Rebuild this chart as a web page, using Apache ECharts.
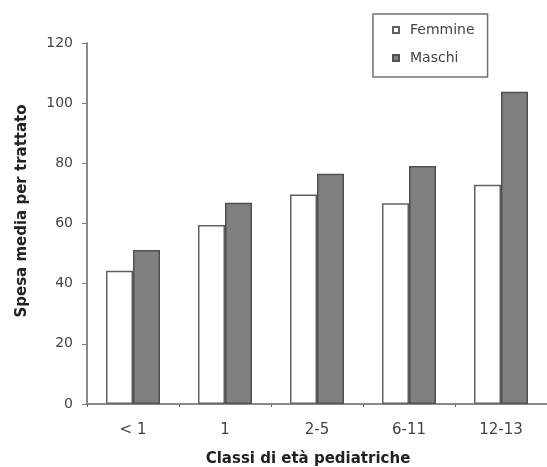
<!DOCTYPE html>
<html>
<head>
<meta charset="utf-8">
<script src="https://cdn.jsdelivr.net/npm/echarts@6/dist/echarts.min.js"></script>
<style>html,body{margin:0;padding:0;background:#fff}#c{width:547px;height:467px}</style>
</head>
<body>
<div id="c"></div>
<script>
const categories = ['< 1', '1', '2-5', '6-11', '12-13'];
const femmine = [44.3, 59.5, 69.6, 66.7, 72.9];
const maschi = [51.2, 66.9, 76.5, 79.1, 103.8];
const yTicks = [0, 20, 40, 60, 80, 100, 120];
const yTitle = 'Spesa media per trattato';
const xTitle = 'Classi di età pediatriche';

const FONT = '"DejaVu Sans", sans-serif';
const chart = echarts.init(document.getElementById('c'), null, {renderer: 'canvas'});
chart.setOption({
  animation: false,
  backgroundColor: '#fff',
  textStyle: {fontFamily: FONT},
  grid: {left: 87, top: 43, width: 468, height: 361, containLabel: false},
  legend: {
    orient: 'vertical', left: 373, top: 14,
    data: ['Femmine', 'Maschi'],
    itemWidth: 6, itemHeight: 6, itemGap: 14,
    padding: [9, 13, 12, 19],
    borderColor: '#707070', borderWidth: 1.5,
    textStyle: {fontFamily: FONT, fontSize: 14, color: '#444', padding: [0, 0, 0, 6]},
    icon: 'rect'
  },
  xAxis: {
    type: 'category', data: categories,
    axisLine: {lineStyle: {color: '#8a8a8a', width: 2}},
    axisTick: {show: true, length: 3, lineStyle: {color: '#666'}},
    axisLabel: {fontSize: 15, color: '#444', margin: 19, fontFamily: FONT}
  },
  yAxis: {
    type: 'value', min: yTicks[0], max: yTicks[yTicks.length - 1], interval: 20,
    splitLine: {show: false},
    axisLine: {show: true, lineStyle: {color: '#8a8a8a', width: 2}},
    axisTick: {show: true, length: 5, lineStyle: {color: '#777'}},
    axisLabel: {fontSize: 14, color: '#444', margin: 14, fontFamily: FONT}
  },
  graphic: [
    {type: 'text', x: 22, y: 211, rotation: Math.PI / 2,
      style: {text: yTitle, font: 'bold 15px ' + FONT, fill: '#222', align: 'center', verticalAlign: 'middle'}},
    {type: 'text', x: 308, y: 459,
      style: {text: xTitle, font: 'bold 15px ' + FONT, fill: '#222', align: 'center', verticalAlign: 'middle'}}
  ],
  series: [
    {name: 'Femmine', type: 'bar', data: femmine, barWidth: 27, barGap: '0%',
      itemStyle: {color: '#ffffff', borderColor: '#606060', borderWidth: 1.5}},
    {name: 'Maschi', type: 'bar', data: maschi, barWidth: 27,
      itemStyle: {color: '#808080', borderColor: '#505050', borderWidth: 1.5}}
  ]
});
</script>
</body>
</html>
